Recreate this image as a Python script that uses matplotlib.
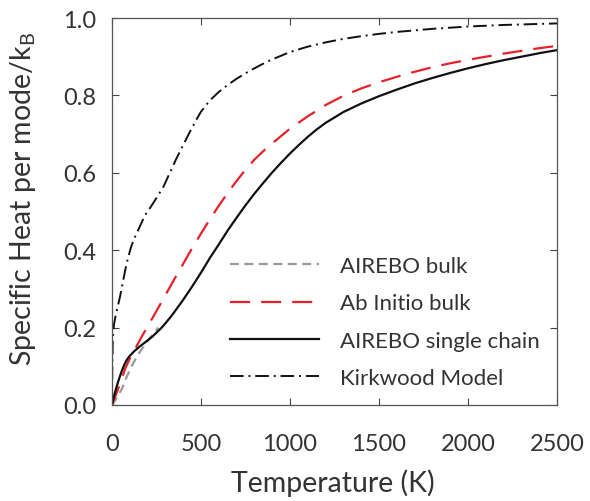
import numpy as np
import matplotlib
matplotlib.use("Agg")
import matplotlib.pyplot as plt

plt.rcParams['font.family'] = ['Lato', 'DejaVu Sans']
plt.rcParams['mathtext.fontset'] = 'custom'
plt.rcParams['mathtext.rm'] = 'Lato'

# AIREBO bulk (grey dashed)
T_bulk = [0, 25, 55, 80, 110, 140, 165, 195, 225, 260]
C_bulk = [0.0, 0.017, 0.041, 0.07, 0.10, 0.125, 0.143, 0.162, 0.18, 0.20]

# Ab Initio bulk (red dashed)
T_abinit = [0, 25, 50, 75, 100, 130, 165, 200, 250, 300, 350, 400, 450, 500, 550,
            600, 650, 700, 750, 800, 850, 900, 950, 1000, 1100, 1200, 1300, 1400,
            1500, 1600, 1700, 1800, 1900, 2000, 2100, 2200, 2300, 2400, 2500]
C_abinit = [0.0, 0.03, 0.062, 0.095, 0.12, 0.145, 0.175, 0.203, 0.243, 0.284, 0.325,
            0.365, 0.405, 0.443, 0.48, 0.515, 0.548, 0.579, 0.608, 0.634, 0.656,
            0.676, 0.695, 0.714, 0.746, 0.775, 0.799, 0.818, 0.834, 0.848, 0.861,
            0.873, 0.883, 0.892, 0.90, 0.908, 0.915, 0.922, 0.928]

# AIREBO single chain (black solid)
T_chain = [0, 12, 25, 40, 55, 70, 85, 100, 125, 150, 175, 200, 225, 250, 275, 300,
           325, 350, 375, 400, 450, 500, 550, 600, 650, 700, 750, 800, 850, 900,
           950, 1000, 1050, 1100, 1150, 1200, 1300, 1400, 1500, 1600, 1700, 1800,
           1900, 2000, 2100, 2200, 2300, 2400, 2500]
C_chain = [0.0, 0.024, 0.046, 0.068, 0.088, 0.105, 0.118, 0.127, 0.139, 0.149, 0.158,
           0.167, 0.176, 0.187, 0.198, 0.211, 0.225, 0.24, 0.256, 0.272, 0.306,
           0.342, 0.38, 0.415, 0.451, 0.484, 0.516, 0.546, 0.574, 0.601, 0.626,
           0.65, 0.672, 0.693, 0.712, 0.729, 0.757, 0.779, 0.798, 0.815, 0.831,
           0.845, 0.858, 0.87, 0.881, 0.891, 0.90, 0.909, 0.917]

# Kirkwood Model (dash-dot)
T_kirk = [0, 1, 2, 4, 7, 12, 20, 30, 45, 60, 75, 90, 105, 120, 140, 160, 185, 215,
          250, 290, 325, 360, 400, 440, 475, 500, 550, 600, 650, 700, 775, 850, 900,
          1000, 1100, 1200, 1300, 1400, 1500, 1600, 1800, 2000, 2200, 2500]
C_kirk = [0.0, 0.06, 0.11, 0.16, 0.19, 0.21, 0.23, 0.25, 0.28, 0.315, 0.35, 0.38,
          0.405, 0.425, 0.445, 0.465, 0.49, 0.51, 0.535, 0.565, 0.60, 0.635, 0.672,
          0.708, 0.738, 0.758, 0.787, 0.809, 0.827, 0.843, 0.864, 0.882, 0.893, 0.912,
          0.926, 0.937, 0.946, 0.953, 0.959, 0.964, 0.972, 0.978, 0.982, 0.986]

x_ticks = [0, 500, 1000, 1500, 2000, 2500]
y_ticks = [0.0, 0.2, 0.4, 0.6, 0.8, 1.0]

fig = plt.figure(figsize=(5.9, 5.02), dpi=100)
ax = fig.add_axes([112/590, 96/502, 445/590, 387/502])

ax.plot(T_bulk, C_bulk, color='#9a9a9a', lw=1.6, dashes=(4, 2.5), label='AIREBO bulk')
ax.plot(T_abinit, C_abinit, color='#e8202a', lw=1.6, dashes=(9, 5), label='Ab Initio bulk')
ax.plot(T_chain, C_chain, color='#111111', lw=1.6, label='AIREBO single chain')
ax.plot(T_kirk, C_kirk, color='#111111', lw=1.4, dashes=(7, 2.5, 1, 2.5), label='Kirkwood Model')

ax.set_xlim(0, 2500)
ax.set_ylim(0, 1.0)
ax.set_xticks(x_ticks)
ax.set_yticks(y_ticks)
ax.set_xticklabels([str(t) for t in x_ticks])
ax.set_yticklabels([f"{t:.1f}" for t in y_ticks])
ax.tick_params(direction='in', top=True, right=True, length=5, width=0.8,
               color='#444444', labelsize=17, labelcolor='#333333')
ax.tick_params(axis='x', pad=20)
ax.tick_params(axis='y', pad=11.5)
for s in ax.spines.values():
    s.set_color('#555555')
    s.set_linewidth(0.9)

ax.set_xlabel('Temperature (K)', fontsize=20.5, color='#333333')
ax.xaxis.set_label_coords(0.497, -0.163)
ax.set_ylabel(r'Specific Heat per mode/k$_\mathregular{B}$', fontsize=20.5,
              color='#333333')
ax.yaxis.set_label_coords(-0.166, 0.536)

leg = ax.legend(loc='upper left', bbox_to_anchor=(0.265, 0.385), frameon=False,
                fontsize=16, handlelength=4.0, handletextpad=0.95,
                labelspacing=0.78, borderaxespad=0, borderpad=0)
for t in leg.get_texts():
    t.set_color('#333333')

fig.savefig('out.png', dpi=100)
